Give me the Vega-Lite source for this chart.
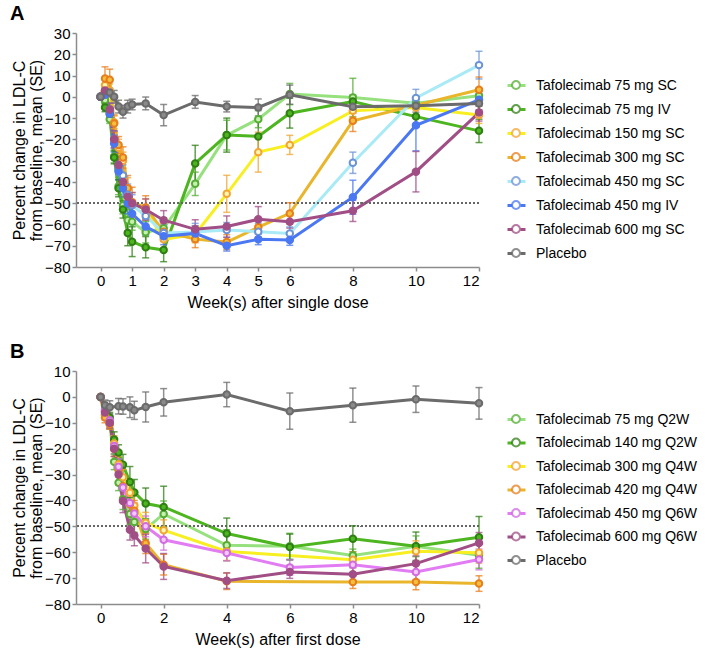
{
"$schema": "https://vega.github.io/schema/vega-lite/v6.json",
"padding": {"left": 10, "top": 4, "right": 5, "bottom": 5},
"config": {
  "font": "Liberation Sans",
  "view": {"stroke": null},
  "axis": {"domainColor": "#8c8c8c", "domainWidth": 1.5, "tickColor": "#8c8c8c", "tickWidth": 1.5, "tickSize": 4, "labelPadding": 2, "labelFontSize": 15, "labelColor": "#000", "labelOverlap": false, "titleFontSize": 16, "titleFontWeight": "normal", "titleColor": "#000", "grid": false, "labelFont": "Liberation Sans", "titleFont": "Liberation Sans"},
  "axisY": {"tickCount": 20, "labelOverlap": false},
  "legend": {"labelFont": "Liberation Sans", "labelFontSize": 14, "labelColor": "#000", "labelLimit": 300},
  "title": {"font": "Liberation Sans", "fontSize": 20, "fontWeight": "bold", "color": "#000", "anchor": "start", "frame": "group"}
},
"datasets": {
"a": [
{"group":"Tafolecimab 75 mg SC","week":0,"pct":0},
{"group":"Tafolecimab 75 mg SC","week":0.14,"pct":-1.5,"lo":-3.5,"hi":0.5},
{"group":"Tafolecimab 75 mg SC","week":0.29,"pct":-10.5,"lo":-12.5,"hi":-8.5},
{"group":"Tafolecimab 75 mg SC","week":0.43,"pct":-28,"lo":-31,"hi":-25},
{"group":"Tafolecimab 75 mg SC","week":0.57,"pct":-42,"lo":-46,"hi":-38},
{"group":"Tafolecimab 75 mg SC","week":0.71,"pct":-51,"lo":-55,"hi":-47},
{"group":"Tafolecimab 75 mg SC","week":0.86,"pct":-58,"lo":-63,"hi":-53},
{"group":"Tafolecimab 75 mg SC","week":1,"pct":-58.7,"lo":-62.7,"hi":-54.7},
{"group":"Tafolecimab 75 mg SC","week":1.43,"pct":-63.7,"lo":-68.7,"hi":-58.7},
{"group":"Tafolecimab 75 mg SC","week":2,"pct":-61.8,"lo":-66.8,"hi":-56.8},
{"group":"Tafolecimab 75 mg SC","week":3,"pct":-40.9,"lo":-46.4,"hi":-35.4},
{"group":"Tafolecimab 75 mg SC","week":4,"pct":-18,"lo":-25,"hi":-11},
{"group":"Tafolecimab 75 mg SC","week":5,"pct":-10.5,"lo":-14.5,"hi":-6.5},
{"group":"Tafolecimab 75 mg SC","week":6,"pct":1.3,"lo":-3.7,"hi":6.3},
{"group":"Tafolecimab 75 mg SC","week":8,"pct":-0.3,"lo":-9.3,"hi":8.7},
{"group":"Tafolecimab 75 mg SC","week":10,"pct":-3,"lo":-6,"hi":0},
{"group":"Tafolecimab 75 mg SC","week":12,"pct":0.5,"lo":-3,"hi":4},
{"group":"Tafolecimab 75 mg IV","week":0,"pct":0},
{"group":"Tafolecimab 75 mg IV","week":0.14,"pct":-5,"lo":-7,"hi":-3},
{"group":"Tafolecimab 75 mg IV","week":0.29,"pct":-8,"lo":-10.5,"hi":-5.5},
{"group":"Tafolecimab 75 mg IV","week":0.43,"pct":-28.5,"lo":-31.5,"hi":-25.5},
{"group":"Tafolecimab 75 mg IV","week":0.57,"pct":-43,"lo":-47,"hi":-39},
{"group":"Tafolecimab 75 mg IV","week":0.71,"pct":-53,"lo":-57,"hi":-49},
{"group":"Tafolecimab 75 mg IV","week":0.86,"pct":-64,"lo":-70,"hi":-58},
{"group":"Tafolecimab 75 mg IV","week":1,"pct":-68.1,"lo":-75.1,"hi":-61.1},
{"group":"Tafolecimab 75 mg IV","week":1.43,"pct":-70.7,"lo":-75.7,"hi":-65.7},
{"group":"Tafolecimab 75 mg IV","week":2,"pct":-72,"lo":-77.5,"hi":-66.5},
{"group":"Tafolecimab 75 mg IV","week":3,"pct":-31.3,"lo":-39.8,"hi":-22.8},
{"group":"Tafolecimab 75 mg IV","week":4,"pct":-18,"lo":-26,"hi":-10},
{"group":"Tafolecimab 75 mg IV","week":5,"pct":-18.6,"lo":-26.6,"hi":-10.6},
{"group":"Tafolecimab 75 mg IV","week":6,"pct":-7.7,"lo":-14.7,"hi":-0.7},
{"group":"Tafolecimab 75 mg IV","week":8,"pct":-2.2,"lo":-5.2,"hi":0.8},
{"group":"Tafolecimab 75 mg IV","week":10,"pct":-9.3,"lo":-14.3,"hi":-4.3},
{"group":"Tafolecimab 75 mg IV","week":12,"pct":-16,"lo":-21.5,"hi":-10.5},
{"group":"Tafolecimab 150 mg SC","week":0,"pct":0},
{"group":"Tafolecimab 150 mg SC","week":0.14,"pct":5.5,"lo":2.5,"hi":8.5},
{"group":"Tafolecimab 150 mg SC","week":0.29,"pct":3,"lo":0,"hi":6},
{"group":"Tafolecimab 150 mg SC","week":0.43,"pct":-12,"lo":-15,"hi":-9},
{"group":"Tafolecimab 150 mg SC","week":0.57,"pct":-24,"lo":-28,"hi":-20},
{"group":"Tafolecimab 150 mg SC","week":0.71,"pct":-30,"lo":-34,"hi":-26},
{"group":"Tafolecimab 150 mg SC","week":0.86,"pct":-43,"lo":-48,"hi":-38},
{"group":"Tafolecimab 150 mg SC","week":1,"pct":-50,"lo":-55,"hi":-45},
{"group":"Tafolecimab 150 mg SC","week":1.43,"pct":-53,"lo":-58,"hi":-48},
{"group":"Tafolecimab 150 mg SC","week":2,"pct":-67,"lo":-71,"hi":-63},
{"group":"Tafolecimab 150 mg SC","week":3,"pct":-64.6,"lo":-68.6,"hi":-60.6},
{"group":"Tafolecimab 150 mg SC","week":4,"pct":-45.6,"lo":-54.3,"hi":-36.9},
{"group":"Tafolecimab 150 mg SC","week":5,"pct":-26,"lo":-35.4,"hi":-16.6},
{"group":"Tafolecimab 150 mg SC","week":6,"pct":-22.6,"lo":-27.1,"hi":-18.1},
{"group":"Tafolecimab 150 mg SC","week":8,"pct":-6.6,"lo":-9.6,"hi":-3.6},
{"group":"Tafolecimab 150 mg SC","week":10,"pct":-5,"lo":-9,"hi":-1},
{"group":"Tafolecimab 150 mg SC","week":12,"pct":-8.5,"lo":-12.5,"hi":-4.5},
{"group":"Tafolecimab 300 mg SC","week":0,"pct":0},
{"group":"Tafolecimab 300 mg SC","week":0.14,"pct":8.6,"lo":3.1,"hi":14.1},
{"group":"Tafolecimab 300 mg SC","week":0.29,"pct":8,"lo":3,"hi":13},
{"group":"Tafolecimab 300 mg SC","week":0.43,"pct":-12.5,"lo":-16.5,"hi":-8.5},
{"group":"Tafolecimab 300 mg SC","week":0.57,"pct":-22.7,"lo":-26.7,"hi":-18.7},
{"group":"Tafolecimab 300 mg SC","week":0.71,"pct":-28.5,"lo":-33.5,"hi":-23.5},
{"group":"Tafolecimab 300 mg SC","week":0.86,"pct":-43,"lo":-49,"hi":-37},
{"group":"Tafolecimab 300 mg SC","week":1,"pct":-49.5,"lo":-56.5,"hi":-42.5},
{"group":"Tafolecimab 300 mg SC","week":1.43,"pct":-52,"lo":-57.5,"hi":-46.5},
{"group":"Tafolecimab 300 mg SC","week":2,"pct":-63.4,"lo":-67.4,"hi":-59.4},
{"group":"Tafolecimab 300 mg SC","week":3,"pct":-66.9,"lo":-70.9,"hi":-62.9},
{"group":"Tafolecimab 300 mg SC","week":4,"pct":-68.3,"lo":-71.8,"hi":-64.8},
{"group":"Tafolecimab 300 mg SC","week":5,"pct":-61.3,"lo":-65.8,"hi":-56.8},
{"group":"Tafolecimab 300 mg SC","week":6,"pct":-54.8,"lo":-59.8,"hi":-49.8},
{"group":"Tafolecimab 300 mg SC","week":8,"pct":-11.3,"lo":-16.3,"hi":-6.3},
{"group":"Tafolecimab 300 mg SC","week":12,"pct":3.3,"lo":-2.7,"hi":9.3},
{"group":"Tafolecimab 450 mg SC","week":0,"pct":0},
{"group":"Tafolecimab 450 mg SC","week":0.14,"pct":2,"lo":-1,"hi":5},
{"group":"Tafolecimab 450 mg SC","week":0.29,"pct":-6,"lo":-9,"hi":-3},
{"group":"Tafolecimab 450 mg SC","week":0.43,"pct":-20,"lo":-24,"hi":-16},
{"group":"Tafolecimab 450 mg SC","week":0.57,"pct":-33,"lo":-37,"hi":-29},
{"group":"Tafolecimab 450 mg SC","week":0.71,"pct":-37,"lo":-42,"hi":-32},
{"group":"Tafolecimab 450 mg SC","week":0.86,"pct":-46,"lo":-51,"hi":-41},
{"group":"Tafolecimab 450 mg SC","week":1,"pct":-51,"lo":-56,"hi":-46},
{"group":"Tafolecimab 450 mg SC","week":1.43,"pct":-56,"lo":-61,"hi":-51},
{"group":"Tafolecimab 450 mg SC","week":2,"pct":-64,"lo":-68,"hi":-60},
{"group":"Tafolecimab 450 mg SC","week":3,"pct":-63.5,"lo":-67.5,"hi":-59.5},
{"group":"Tafolecimab 450 mg SC","week":4,"pct":-62.6,"lo":-66.1,"hi":-59.1},
{"group":"Tafolecimab 450 mg SC","week":5,"pct":-63.4,"lo":-67.4,"hi":-59.4},
{"group":"Tafolecimab 450 mg SC","week":6,"pct":-64.2,"lo":-67.2,"hi":-61.2},
{"group":"Tafolecimab 450 mg SC","week":8,"pct":-31,"lo":-36,"hi":-26},
{"group":"Tafolecimab 450 mg SC","week":10,"pct":-0.5,"lo":-4.5,"hi":3.5},
{"group":"Tafolecimab 450 mg SC","week":12,"pct":14.9,"lo":8.4,"hi":21.4},
{"group":"Tafolecimab 450 mg IV","week":0,"pct":0},
{"group":"Tafolecimab 450 mg IV","week":0.14,"pct":1,"lo":-2,"hi":4},
{"group":"Tafolecimab 450 mg IV","week":0.29,"pct":-8,"lo":-11,"hi":-5},
{"group":"Tafolecimab 450 mg IV","week":0.43,"pct":-22,"lo":-26,"hi":-18},
{"group":"Tafolecimab 450 mg IV","week":0.57,"pct":-35,"lo":-39,"hi":-31},
{"group":"Tafolecimab 450 mg IV","week":0.71,"pct":-43,"lo":-47,"hi":-39},
{"group":"Tafolecimab 450 mg IV","week":0.86,"pct":-50,"lo":-55,"hi":-45},
{"group":"Tafolecimab 450 mg IV","week":1,"pct":-55,"lo":-60,"hi":-50},
{"group":"Tafolecimab 450 mg IV","week":1.43,"pct":-61,"lo":-65,"hi":-57},
{"group":"Tafolecimab 450 mg IV","week":2,"pct":-65.5,"lo":-69.5,"hi":-61.5},
{"group":"Tafolecimab 450 mg IV","week":3,"pct":-64.2,"lo":-67.7,"hi":-60.7},
{"group":"Tafolecimab 450 mg IV","week":4,"pct":-70,"lo":-72.5,"hi":-67.5},
{"group":"Tafolecimab 450 mg IV","week":5,"pct":-67,"lo":-69.5,"hi":-64.5},
{"group":"Tafolecimab 450 mg IV","week":6,"pct":-67.3,"lo":-69.8,"hi":-64.8},
{"group":"Tafolecimab 450 mg IV","week":8,"pct":-47.2,"lo":-55.2,"hi":-39.2},
{"group":"Tafolecimab 450 mg IV","week":10,"pct":-13.4,"lo":-25.4,"hi":-1.4},
{"group":"Tafolecimab 450 mg IV","week":12,"pct":-1.4,"lo":-4.4,"hi":1.6},
{"group":"Tafolecimab 600 mg SC","week":0,"pct":0},
{"group":"Tafolecimab 600 mg SC","week":0.14,"pct":3,"lo":0,"hi":6},
{"group":"Tafolecimab 600 mg SC","week":0.29,"pct":-6,"lo":-9,"hi":-3},
{"group":"Tafolecimab 600 mg SC","week":0.43,"pct":-20,"lo":-24,"hi":-16},
{"group":"Tafolecimab 600 mg SC","week":0.57,"pct":-32,"lo":-36,"hi":-28},
{"group":"Tafolecimab 600 mg SC","week":0.71,"pct":-40,"lo":-44,"hi":-36},
{"group":"Tafolecimab 600 mg SC","week":0.86,"pct":-47,"lo":-52,"hi":-42},
{"group":"Tafolecimab 600 mg SC","week":1,"pct":-50,"lo":-55,"hi":-45},
{"group":"Tafolecimab 600 mg SC","week":1.43,"pct":-53,"lo":-58,"hi":-48},
{"group":"Tafolecimab 600 mg SC","week":2,"pct":-58,"lo":-62.5,"hi":-53.5},
{"group":"Tafolecimab 600 mg SC","week":3,"pct":-62.3,"lo":-66.8,"hi":-57.8},
{"group":"Tafolecimab 600 mg SC","week":4,"pct":-61,"lo":-66,"hi":-56},
{"group":"Tafolecimab 600 mg SC","week":5,"pct":-57.6,"lo":-63.6,"hi":-51.6},
{"group":"Tafolecimab 600 mg SC","week":6,"pct":-58.7,"lo":-61.7,"hi":-55.7},
{"group":"Tafolecimab 600 mg SC","week":8,"pct":-53.6,"lo":-58.6,"hi":-48.6},
{"group":"Tafolecimab 600 mg SC","week":10,"pct":-35.2,"lo":-44.7,"hi":-25.7},
{"group":"Tafolecimab 600 mg SC","week":12,"pct":-7.4,"lo":-11.4,"hi":-3.4},
{"group":"Placebo","week":0,"pct":0},
{"group":"Placebo","week":0.29,"pct":2,"lo":0,"hi":4},
{"group":"Placebo","week":0.43,"pct":0,"lo":-3,"hi":3},
{"group":"Placebo","week":0.57,"pct":-4.6,"lo":-7.6,"hi":-1.6},
{"group":"Placebo","week":0.71,"pct":-7,"lo":-10,"hi":-4},
{"group":"Placebo","week":0.86,"pct":-4.6,"lo":-7.6,"hi":-1.6},
{"group":"Placebo","week":1,"pct":-3.6,"lo":-6.1,"hi":-1.1},
{"group":"Placebo","week":1.43,"pct":-3.1,"lo":-6.1,"hi":-0.1},
{"group":"Placebo","week":2,"pct":-8.6,"lo":-13.6,"hi":-3.6},
{"group":"Placebo","week":3,"pct":-2.4,"lo":-5.4,"hi":0.6},
{"group":"Placebo","week":4,"pct":-4.6,"lo":-7.1,"hi":-2.1},
{"group":"Placebo","week":5,"pct":-5,"lo":-9,"hi":-1},
{"group":"Placebo","week":6,"pct":1,"lo":-3.5,"hi":5.5},
{"group":"Placebo","week":8,"pct":-4.7,"lo":-7.7,"hi":-1.7},
{"group":"Placebo","week":10,"pct":-4.2,"lo":-7.2,"hi":-1.2},
{"group":"Placebo","week":12,"pct":-3.1,"lo":-6.1,"hi":-0.1}
],
"b": [
{"group":"Tafolecimab 75 mg Q2W","week":0,"pct":0},
{"group":"Tafolecimab 75 mg Q2W","week":0.14,"pct":-6.8,"lo":-8.3,"hi":-5.3},
{"group":"Tafolecimab 75 mg Q2W","week":0.29,"pct":-10.4,"lo":-12.4,"hi":-8.4},
{"group":"Tafolecimab 75 mg Q2W","week":0.43,"pct":-25.1,"lo":-28.1,"hi":-22.1},
{"group":"Tafolecimab 75 mg Q2W","week":0.57,"pct":-33.2,"lo":-36.2,"hi":-30.2},
{"group":"Tafolecimab 75 mg Q2W","week":0.71,"pct":-39.5,"lo":-43.5,"hi":-35.5},
{"group":"Tafolecimab 75 mg Q2W","week":0.93,"pct":-45.2,"lo":-49.2,"hi":-41.2},
{"group":"Tafolecimab 75 mg Q2W","week":1.07,"pct":-48.3,"lo":-52.3,"hi":-44.3},
{"group":"Tafolecimab 75 mg Q2W","week":1.43,"pct":-51,"lo":-55,"hi":-47},
{"group":"Tafolecimab 75 mg Q2W","week":2,"pct":-45.2,"lo":-50.2,"hi":-40.2},
{"group":"Tafolecimab 75 mg Q2W","week":4,"pct":-57.3,"lo":-63.3,"hi":-51.3},
{"group":"Tafolecimab 75 mg Q2W","week":6,"pct":-57.7,"lo":-62.7,"hi":-52.7},
{"group":"Tafolecimab 75 mg Q2W","week":8,"pct":-61.3,"lo":-63.8,"hi":-58.8},
{"group":"Tafolecimab 75 mg Q2W","week":10,"pct":-57.7,"lo":-61.7,"hi":-53.7},
{"group":"Tafolecimab 75 mg Q2W","week":12,"pct":-61.2,"lo":-66.2,"hi":-56.2},
{"group":"Tafolecimab 140 mg Q2W","week":0,"pct":0},
{"group":"Tafolecimab 140 mg Q2W","week":0.14,"pct":-5.5,"lo":-7,"hi":-4},
{"group":"Tafolecimab 140 mg Q2W","week":0.29,"pct":-8,"lo":-10,"hi":-6},
{"group":"Tafolecimab 140 mg Q2W","week":0.43,"pct":-16.5,"lo":-19.5,"hi":-13.5},
{"group":"Tafolecimab 140 mg Q2W","week":0.57,"pct":-21.5,"lo":-24.5,"hi":-18.5},
{"group":"Tafolecimab 140 mg Q2W","week":0.71,"pct":-26.2,"lo":-30.2,"hi":-22.2},
{"group":"Tafolecimab 140 mg Q2W","week":0.93,"pct":-32.9,"lo":-38.9,"hi":-26.9},
{"group":"Tafolecimab 140 mg Q2W","week":1.07,"pct":-36.9,"lo":-41.9,"hi":-31.9},
{"group":"Tafolecimab 140 mg Q2W","week":1.43,"pct":-41.2,"lo":-47.2,"hi":-35.2},
{"group":"Tafolecimab 140 mg Q2W","week":2,"pct":-42.5,"lo":-50.5,"hi":-34.5},
{"group":"Tafolecimab 140 mg Q2W","week":4,"pct":-52.8,"lo":-58.8,"hi":-46.8},
{"group":"Tafolecimab 140 mg Q2W","week":6,"pct":-58,"lo":-63,"hi":-53},
{"group":"Tafolecimab 140 mg Q2W","week":8,"pct":-54.8,"lo":-59.8,"hi":-49.8},
{"group":"Tafolecimab 140 mg Q2W","week":10,"pct":-57.7,"lo":-63.2,"hi":-52.2},
{"group":"Tafolecimab 140 mg Q2W","week":12,"pct":-54.2,"lo":-62.2,"hi":-46.2},
{"group":"Tafolecimab 300 mg Q4W","week":0,"pct":0},
{"group":"Tafolecimab 300 mg Q4W","week":0.14,"pct":-7,"lo":-9,"hi":-5},
{"group":"Tafolecimab 300 mg Q4W","week":0.29,"pct":-10,"lo":-12,"hi":-8},
{"group":"Tafolecimab 300 mg Q4W","week":0.43,"pct":-18,"lo":-21,"hi":-15},
{"group":"Tafolecimab 300 mg Q4W","week":0.57,"pct":-26,"lo":-29,"hi":-23},
{"group":"Tafolecimab 300 mg Q4W","week":0.71,"pct":-31,"lo":-34,"hi":-28},
{"group":"Tafolecimab 300 mg Q4W","week":0.93,"pct":-37,"lo":-41,"hi":-33},
{"group":"Tafolecimab 300 mg Q4W","week":1.07,"pct":-42,"lo":-46,"hi":-38},
{"group":"Tafolecimab 300 mg Q4W","week":1.43,"pct":-48.6,"lo":-52.6,"hi":-44.6},
{"group":"Tafolecimab 300 mg Q4W","week":2,"pct":-51.5,"lo":-55.5,"hi":-47.5},
{"group":"Tafolecimab 300 mg Q4W","week":4,"pct":-59.7,"lo":-63.2,"hi":-56.2},
{"group":"Tafolecimab 300 mg Q4W","week":8,"pct":-62.9,"lo":-65.9,"hi":-59.9},
{"group":"Tafolecimab 300 mg Q4W","week":10,"pct":-59.6,"lo":-63.6,"hi":-55.6},
{"group":"Tafolecimab 300 mg Q4W","week":12,"pct":-60.2,"lo":-64.2,"hi":-56.2},
{"group":"Tafolecimab 420 mg Q4W","week":0,"pct":0},
{"group":"Tafolecimab 420 mg Q4W","week":0.14,"pct":-8,"lo":-10,"hi":-6},
{"group":"Tafolecimab 420 mg Q4W","week":0.29,"pct":-10.5,"lo":-12.5,"hi":-8.5},
{"group":"Tafolecimab 420 mg Q4W","week":0.43,"pct":-20,"lo":-23,"hi":-17},
{"group":"Tafolecimab 420 mg Q4W","week":0.57,"pct":-28,"lo":-31,"hi":-25},
{"group":"Tafolecimab 420 mg Q4W","week":0.71,"pct":-34.5,"lo":-38.5,"hi":-30.5},
{"group":"Tafolecimab 420 mg Q4W","week":0.93,"pct":-41.5,"lo":-45.5,"hi":-37.5},
{"group":"Tafolecimab 420 mg Q4W","week":1.07,"pct":-44,"lo":-48,"hi":-40},
{"group":"Tafolecimab 420 mg Q4W","week":1.43,"pct":-56.5,"lo":-60.5,"hi":-52.5},
{"group":"Tafolecimab 420 mg Q4W","week":2,"pct":-64.8,"lo":-68.8,"hi":-60.8},
{"group":"Tafolecimab 420 mg Q4W","week":4,"pct":-71.2,"lo":-74.4,"hi":-68},
{"group":"Tafolecimab 420 mg Q4W","week":8,"pct":-71.5,"lo":-74,"hi":-69},
{"group":"Tafolecimab 420 mg Q4W","week":10,"pct":-71.5,"lo":-74.5,"hi":-68.5},
{"group":"Tafolecimab 420 mg Q4W","week":12,"pct":-72.1,"lo":-75.1,"hi":-69.1},
{"group":"Tafolecimab 450 mg Q6W","week":0,"pct":0},
{"group":"Tafolecimab 450 mg Q6W","week":0.14,"pct":-5,"lo":-7,"hi":-3},
{"group":"Tafolecimab 450 mg Q6W","week":0.29,"pct":-9,"lo":-11,"hi":-7},
{"group":"Tafolecimab 450 mg Q6W","week":0.43,"pct":-19,"lo":-22,"hi":-16},
{"group":"Tafolecimab 450 mg Q6W","week":0.57,"pct":-27,"lo":-30,"hi":-24},
{"group":"Tafolecimab 450 mg Q6W","week":0.71,"pct":-35,"lo":-39,"hi":-31},
{"group":"Tafolecimab 450 mg Q6W","week":0.93,"pct":-41,"lo":-45,"hi":-37},
{"group":"Tafolecimab 450 mg Q6W","week":1.07,"pct":-45,"lo":-49,"hi":-41},
{"group":"Tafolecimab 450 mg Q6W","week":1.43,"pct":-50,"lo":-54,"hi":-46},
{"group":"Tafolecimab 450 mg Q6W","week":2,"pct":-55.2,"lo":-59.2,"hi":-51.2},
{"group":"Tafolecimab 450 mg Q6W","week":4,"pct":-60.3,"lo":-63.3,"hi":-57.3},
{"group":"Tafolecimab 450 mg Q6W","week":6,"pct":-65.9,"lo":-68.9,"hi":-62.9},
{"group":"Tafolecimab 450 mg Q6W","week":8,"pct":-64.8,"lo":-67.8,"hi":-61.8},
{"group":"Tafolecimab 450 mg Q6W","week":10,"pct":-67.6,"lo":-70.6,"hi":-64.6},
{"group":"Tafolecimab 450 mg Q6W","week":12,"pct":-62.8,"lo":-66.8,"hi":-58.8},
{"group":"Tafolecimab 600 mg Q6W","week":0,"pct":0},
{"group":"Tafolecimab 600 mg Q6W","week":0.14,"pct":-6,"lo":-8,"hi":-4},
{"group":"Tafolecimab 600 mg Q6W","week":0.29,"pct":-10,"lo":-12,"hi":-8},
{"group":"Tafolecimab 600 mg Q6W","week":0.43,"pct":-20,"lo":-23,"hi":-17},
{"group":"Tafolecimab 600 mg Q6W","week":0.57,"pct":-30,"lo":-34,"hi":-26},
{"group":"Tafolecimab 600 mg Q6W","week":0.71,"pct":-40.2,"lo":-44.7,"hi":-35.7},
{"group":"Tafolecimab 600 mg Q6W","week":0.93,"pct":-51.3,"lo":-55.3,"hi":-47.3},
{"group":"Tafolecimab 600 mg Q6W","week":1.07,"pct":-53.5,"lo":-57.5,"hi":-49.5},
{"group":"Tafolecimab 600 mg Q6W","week":1.43,"pct":-58.6,"lo":-64.1,"hi":-53.1},
{"group":"Tafolecimab 600 mg Q6W","week":2,"pct":-65.5,"lo":-70.5,"hi":-60.5},
{"group":"Tafolecimab 600 mg Q6W","week":4,"pct":-71,"lo":-74,"hi":-68},
{"group":"Tafolecimab 600 mg Q6W","week":6,"pct":-67.6,"lo":-70.1,"hi":-65.1},
{"group":"Tafolecimab 600 mg Q6W","week":8,"pct":-68.5,"lo":-71,"hi":-66},
{"group":"Tafolecimab 600 mg Q6W","week":10,"pct":-64.4,"lo":-67.4,"hi":-61.4},
{"group":"Tafolecimab 600 mg Q6W","week":12,"pct":-56.4,"lo":-60.4,"hi":-52.4},
{"group":"Placebo","week":0,"pct":0},
{"group":"Placebo","week":0.14,"pct":-3.2,"lo":-5.2,"hi":-1.2},
{"group":"Placebo","week":0.29,"pct":-4,"lo":-6.5,"hi":-1.5},
{"group":"Placebo","week":0.57,"pct":-3.6,"lo":-6.6,"hi":-0.6},
{"group":"Placebo","week":0.71,"pct":-3.7,"lo":-6.7,"hi":-0.7},
{"group":"Placebo","week":0.93,"pct":-4,"lo":-8,"hi":0},
{"group":"Placebo","week":1.07,"pct":-5.2,"lo":-8.7,"hi":-1.7},
{"group":"Placebo","week":1.43,"pct":-3.9,"lo":-9.7,"hi":1.9},
{"group":"Placebo","week":2,"pct":-2.1,"lo":-7.4,"hi":3.2},
{"group":"Placebo","week":4,"pct":0.9,"lo":-3.8,"hi":5.6},
{"group":"Placebo","week":6,"pct":-5.5,"lo":-12.5,"hi":1.5},
{"group":"Placebo","week":8,"pct":-3.2,"lo":-9.8,"hi":3.4},
{"group":"Placebo","week":10,"pct":-0.9,"lo":-6,"hi":4.2},
{"group":"Placebo","week":12,"pct":-2.5,"lo":-8.6,"hi":3.6}
]
},
"spacing": 32,
"resolve": {"scale": {"color": "independent", "stroke": "independent", "fill": "independent", "x": "independent", "y": "independent"}, "legend": {"color": "independent", "stroke": "independent", "fill": "independent"}},
"vconcat": [
{
 "width": 403, "height": 234,
 "title": {"text": "A", "dx": -66, "offset": 2},
 "data": {"name": "a"},
 "layer": [
  {"mark": {"type": "line", "strokeWidth": 3},
   "encoding": {
     "x": {"field": "week", "type": "quantitative", "scale": {"domain": [-0.78, 12], "nice": false, "zero": false}, "axis": {"values": [0,1,2,3,4,5,6,8,10,12], "format": "d", "title": "Week(s) after single dose", "titlePadding": 6}},
     "y": {"field": "pct", "type": "quantitative", "scale": {"domain": [-80, 30], "nice": false, "zero": false}, "axis": {"values": [-80,-70,-60,-50,-40,-30,-20,-10,0,10,20,30], "tickCount": 20, "labelOverlap": false, "title": ["Percent change in LDL-C", "from baseline, mean (SE)"], "titlePadding": 0, "titleLineHeight": 17}},
     "color": {"field": "group", "type": "nominal", "scale": {"domain": ["Tafolecimab 75 mg SC","Tafolecimab 75 mg IV","Tafolecimab 150 mg SC","Tafolecimab 300 mg SC","Tafolecimab 450 mg SC","Tafolecimab 450 mg IV","Tafolecimab 600 mg SC","Placebo"], "range": ["#96e07e","#4db51f","#f7ef22","#e9b52b","#a8eaf6","#4a77f2","#a04e85","#6b6b6b"]},
       "legend": {"orient": "none", "legendX": 430, "legendY": 42, "title": null, "padding": 0, "symbolType": "M-1,0L-0.44,0M0.44,0L1,0", "symbolSize": 324, "symbolStrokeWidth": 3, "labelOffset": 9, "rowPadding": 6}}
   }},
  {"mark": {"type": "rule", "strokeDash": [2, 2], "color": "#666", "strokeWidth": 1}, "encoding": {"y": {"datum": -50, "type": "quantitative", "axis": {"values": [-80,-70,-60,-50,-40,-30,-20,-10,0,10,20,30], "tickCount": 20, "labelOverlap": false, "title": ["Percent change in LDL-C", "from baseline, mean (SE)"], "titlePadding": 0, "titleLineHeight": 17}}}},
  {"transform": [{"filter": "isValid(datum.lo)"}],
   "mark": {"type": "rule", "strokeWidth": 1.5, "opacity": 0.75},
   "encoding": {"x": {"field": "week", "type": "quantitative"}, "y": {"field": "lo", "type": "quantitative", "axis": {"values": [-80,-70,-60,-50,-40,-30,-20,-10,0,10,20,30], "tickCount": 20, "labelOverlap": false, "title": ["Percent change in LDL-C", "from baseline, mean (SE)"], "titlePadding": 0, "titleLineHeight": 17}}, "y2": {"field": "hi"},
     "stroke": {"field": "group", "type": "nominal", "sort": ["Tafolecimab 75 mg SC","Tafolecimab 75 mg IV","Tafolecimab 150 mg SC","Tafolecimab 300 mg SC","Tafolecimab 450 mg SC","Tafolecimab 450 mg IV","Tafolecimab 600 mg SC","Placebo"], "scale": {"range": ["#55ad35","#2f7f14","#f2a533","#e87d1c","#6b93d6","#4a77f2","#a04e85","#6b6b6b"]}}}},
  {"transform": [{"filter": "isValid(datum.lo)"}],
   "mark": {"type": "rule", "strokeWidth": 1.5, "opacity": 0.75, "xOffset": -3.5, "x2Offset": 3.5},
   "encoding": {"x": {"field": "week", "type": "quantitative"}, "x2": {"field": "week"}, "y": {"field": "lo", "type": "quantitative", "axis": {"values": [-80,-70,-60,-50,-40,-30,-20,-10,0,10,20,30], "tickCount": 20, "labelOverlap": false, "title": ["Percent change in LDL-C", "from baseline, mean (SE)"], "titlePadding": 0, "titleLineHeight": 17}},
     "stroke": {"field": "group", "type": "nominal", "sort": ["Tafolecimab 75 mg SC","Tafolecimab 75 mg IV","Tafolecimab 150 mg SC","Tafolecimab 300 mg SC","Tafolecimab 450 mg SC","Tafolecimab 450 mg IV","Tafolecimab 600 mg SC","Placebo"]}}},
  {"transform": [{"filter": "isValid(datum.hi)"}],
   "mark": {"type": "rule", "strokeWidth": 1.5, "opacity": 0.75, "xOffset": -3.5, "x2Offset": 3.5},
   "encoding": {"x": {"field": "week", "type": "quantitative"}, "x2": {"field": "week"}, "y": {"field": "hi", "type": "quantitative", "axis": {"values": [-80,-70,-60,-50,-40,-30,-20,-10,0,10,20,30], "tickCount": 20, "labelOverlap": false, "title": ["Percent change in LDL-C", "from baseline, mean (SE)"], "titlePadding": 0, "titleLineHeight": 17}},
     "stroke": {"field": "group", "type": "nominal", "sort": ["Tafolecimab 75 mg SC","Tafolecimab 75 mg IV","Tafolecimab 150 mg SC","Tafolecimab 300 mg SC","Tafolecimab 450 mg SC","Tafolecimab 450 mg IV","Tafolecimab 600 mg SC","Placebo"]}}},
  {"mark": {"type": "circle", "size": 42, "strokeWidth": 2, "opacity": 1},
   "encoding": {"x": {"field": "week", "type": "quantitative"}, "y": {"field": "pct", "type": "quantitative", "axis": {"values": [-80,-70,-60,-50,-40,-30,-20,-10,0,10,20,30], "tickCount": 20, "labelOverlap": false, "title": ["Percent change in LDL-C", "from baseline, mean (SE)"], "titlePadding": 0, "titleLineHeight": 17}},
     "stroke": {"field": "group", "type": "nominal", "sort": ["Tafolecimab 75 mg SC","Tafolecimab 75 mg IV","Tafolecimab 150 mg SC","Tafolecimab 300 mg SC","Tafolecimab 450 mg SC","Tafolecimab 450 mg IV","Tafolecimab 600 mg SC","Placebo"],
       "legend": {"orient": "none", "legendX": 430, "legendY": 42, "title": null, "padding": 0, "symbolType": "M-0.44,0A0.44,0.44,0,1,1,0.44,0A0.44,0.44,0,1,1,-0.44,0Z", "symbolSize": 324, "symbolStrokeWidth": 2, "symbolFillColor": "#ffffff", "labelOffset": 9, "rowPadding": 6, "labelColor": "transparent"}},
     "fill": {"field": "group", "type": "nominal", "sort": ["Tafolecimab 75 mg SC","Tafolecimab 75 mg IV","Tafolecimab 150 mg SC","Tafolecimab 300 mg SC","Tafolecimab 450 mg SC","Tafolecimab 450 mg IV","Tafolecimab 600 mg SC","Placebo"], "scale": {"range": ["#c5f0ae","#4db51f","#fff6b0","#f3bf3e","#ffffff","#4a77f2","#a04e85","#8a8a8a"]}, "legend": null}}}
 ]
},
{
 "width": 403, "height": 233,
 "title": {"text": "B", "dx": -66, "offset": 2},
 "data": {"name": "b"},
 "layer": [
  {"mark": {"type": "line", "strokeWidth": 3},
   "encoding": {
     "x": {"field": "week", "type": "quantitative", "scale": {"domain": [-0.78, 12], "nice": false, "zero": false}, "axis": {"values": [0,2,4,6,8,10,12], "format": "d", "title": "Week(s) after first dose", "titlePadding": 6}},
     "y": {"field": "pct", "type": "quantitative", "scale": {"domain": [-80, 10], "nice": false, "zero": false}, "axis": {"values": [-80,-70,-60,-50,-40,-30,-20,-10,0,10], "tickCount": 20, "labelOverlap": false, "title": ["Percent change  in LDL-C", "from baseline, mean (SE)"], "titlePadding": 0, "titleLineHeight": 17}},
     "color": {"field": "group", "type": "nominal", "scale": {"domain": ["Tafolecimab 75 mg Q2W","Tafolecimab 140 mg Q2W","Tafolecimab 300 mg Q4W","Tafolecimab 420 mg Q4W","Tafolecimab 450 mg Q6W","Tafolecimab 600 mg Q6W","Placebo"], "range": ["#96e07e","#4db51f","#f7ef22","#e9b52b","#e27cf2","#a04e85","#6b6b6b"]},
       "legend": {"orient": "none", "legendX": 430, "legendY": 38, "title": null, "padding": 0, "symbolType": "M-1,0L-0.44,0M0.44,0L1,0", "symbolSize": 324, "symbolStrokeWidth": 3, "labelOffset": 9, "rowPadding": 5.5}}
   }},
  {"mark": {"type": "rule", "strokeDash": [2, 2], "color": "#666", "strokeWidth": 1}, "encoding": {"y": {"datum": -50, "type": "quantitative", "axis": {"values": [-80,-70,-60,-50,-40,-30,-20,-10,0,10], "tickCount": 20, "labelOverlap": false, "title": ["Percent change  in LDL-C", "from baseline, mean (SE)"], "titlePadding": 0, "titleLineHeight": 17}}}},
  {"transform": [{"filter": "isValid(datum.lo)"}],
   "mark": {"type": "rule", "strokeWidth": 1.5, "opacity": 0.75},
   "encoding": {"x": {"field": "week", "type": "quantitative"}, "y": {"field": "lo", "type": "quantitative", "axis": {"values": [-80,-70,-60,-50,-40,-30,-20,-10,0,10], "tickCount": 20, "labelOverlap": false, "title": ["Percent change  in LDL-C", "from baseline, mean (SE)"], "titlePadding": 0, "titleLineHeight": 17}}, "y2": {"field": "hi"},
     "stroke": {"field": "group", "type": "nominal", "sort": ["Tafolecimab 75 mg Q2W","Tafolecimab 140 mg Q2W","Tafolecimab 300 mg Q4W","Tafolecimab 420 mg Q4W","Tafolecimab 450 mg Q6W","Tafolecimab 600 mg Q6W","Placebo"], "scale": {"range": ["#55ad35","#2f7f14","#f2a533","#e87d1c","#d06be0","#a04e85","#6b6b6b"]}}}},
  {"transform": [{"filter": "isValid(datum.lo)"}],
   "mark": {"type": "rule", "strokeWidth": 1.5, "opacity": 0.75, "xOffset": -3.5, "x2Offset": 3.5},
   "encoding": {"x": {"field": "week", "type": "quantitative"}, "x2": {"field": "week"}, "y": {"field": "lo", "type": "quantitative", "axis": {"values": [-80,-70,-60,-50,-40,-30,-20,-10,0,10], "tickCount": 20, "labelOverlap": false, "title": ["Percent change  in LDL-C", "from baseline, mean (SE)"], "titlePadding": 0, "titleLineHeight": 17}},
     "stroke": {"field": "group", "type": "nominal", "sort": ["Tafolecimab 75 mg Q2W","Tafolecimab 140 mg Q2W","Tafolecimab 300 mg Q4W","Tafolecimab 420 mg Q4W","Tafolecimab 450 mg Q6W","Tafolecimab 600 mg Q6W","Placebo"]}}},
  {"transform": [{"filter": "isValid(datum.hi)"}],
   "mark": {"type": "rule", "strokeWidth": 1.5, "opacity": 0.75, "xOffset": -3.5, "x2Offset": 3.5},
   "encoding": {"x": {"field": "week", "type": "quantitative"}, "x2": {"field": "week"}, "y": {"field": "hi", "type": "quantitative", "axis": {"values": [-80,-70,-60,-50,-40,-30,-20,-10,0,10], "tickCount": 20, "labelOverlap": false, "title": ["Percent change  in LDL-C", "from baseline, mean (SE)"], "titlePadding": 0, "titleLineHeight": 17}},
     "stroke": {"field": "group", "type": "nominal", "sort": ["Tafolecimab 75 mg Q2W","Tafolecimab 140 mg Q2W","Tafolecimab 300 mg Q4W","Tafolecimab 420 mg Q4W","Tafolecimab 450 mg Q6W","Tafolecimab 600 mg Q6W","Placebo"]}}},
  {"mark": {"type": "circle", "size": 42, "strokeWidth": 2, "opacity": 1},
   "encoding": {"x": {"field": "week", "type": "quantitative"}, "y": {"field": "pct", "type": "quantitative", "axis": {"values": [-80,-70,-60,-50,-40,-30,-20,-10,0,10], "tickCount": 20, "labelOverlap": false, "title": ["Percent change  in LDL-C", "from baseline, mean (SE)"], "titlePadding": 0, "titleLineHeight": 17}},
     "stroke": {"field": "group", "type": "nominal", "sort": ["Tafolecimab 75 mg Q2W","Tafolecimab 140 mg Q2W","Tafolecimab 300 mg Q4W","Tafolecimab 420 mg Q4W","Tafolecimab 450 mg Q6W","Tafolecimab 600 mg Q6W","Placebo"],
       "legend": {"orient": "none", "legendX": 430, "legendY": 38, "title": null, "padding": 0, "symbolType": "M-0.44,0A0.44,0.44,0,1,1,0.44,0A0.44,0.44,0,1,1,-0.44,0Z", "symbolSize": 324, "symbolStrokeWidth": 2, "symbolFillColor": "#ffffff", "labelOffset": 9, "rowPadding": 5.5, "labelColor": "transparent"}},
     "fill": {"field": "group", "type": "nominal", "sort": ["Tafolecimab 75 mg Q2W","Tafolecimab 140 mg Q2W","Tafolecimab 300 mg Q4W","Tafolecimab 420 mg Q4W","Tafolecimab 450 mg Q6W","Tafolecimab 600 mg Q6W","Placebo"], "scale": {"range": ["#c5f0ae","#4db51f","#fff6b0","#f3bf3e","#f5c8fa","#a04e85","#8a8a8a"]}, "legend": null}}}
 ]
}
]
}
